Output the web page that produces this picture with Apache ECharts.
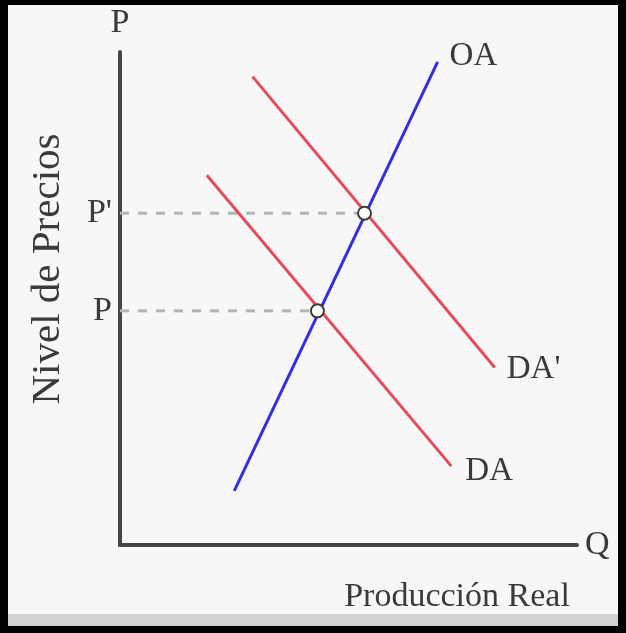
<!DOCTYPE html>
<html>
<head>
<meta charset="utf-8">
<script src="https://cdn.jsdelivr.net/npm/echarts@6/dist/echarts.min.js"></script>
<style>
  html, body { margin: 0; padding: 0; background: #000; }
  #chart { width: 626px; height: 633px; }
</style>
</head>
<body>
<div id="chart"></div>
<script>
// curves in abstract units (0..100 on both axes)
const oaLine = [[25, 11], [69.5, 98]];
const daPrimeLine = [[29, 95], [82, 36]];
const daLine = [[19, 75], [72.5, 16]];
// equilibrium points: P on DA, P' on DA'
const equilibria = [[43.2, 47.5], [53.5, 67.3]];
const priceLabels = ['P', "P'"];

const serif = 'Liberation Serif';
const textColor = '#3a3a3a';

const chart = echarts.init(document.getElementById('chart'));

// dashed guides from the y axis to each equilibrium point
// (symbol kept at size 0 so the label on the first point still renders)
const guideSeries = equilibria.map((pt, i) => ({
    type: 'line',
    silent: true,
    symbol: 'circle',
    symbolSize: 0,
    showSymbol: true,
    lineStyle: { color: '#b4b4b4', width: 3, type: [9, 9] },
    data: [
        {
            value: [0, pt[1]],
            label: {
                show: true,
                position: 'left',
                distance: 8,
                formatter: priceLabels[i],
                fontFamily: serif,
                fontSize: 34,
                color: textColor
            }
        },
        { value: pt, label: { show: false } }
    ],
    z: 1
}));

function curve(name, data, color, offset) {
    return {
        type: 'line',
        name: name,
        data: data,
        symbol: 'none',
        lineStyle: { color: color, width: 3 },
        endLabel: {
            show: true,
            formatter: name,
            fontFamily: serif,
            fontSize: 33,
            color: textColor,
            offset: offset
        },
        z: 2
    };
}

chart.setOption({
    animation: false,
    backgroundColor: '#000',
    graphic: [
        { type: 'rect', z: -10, shape: { x: 8, y: 5, width: 610, height: 609 }, style: { fill: '#f7f7f7' } },
        { type: 'rect', z: -10, shape: { x: 8, y: 614, width: 610, height: 12 }, style: { fill: '#d2d2d2' } },
        {
            type: 'text', x: 48, y: 269, rotation: Math.PI / 2,
            style: { text: 'Nivel de Precios', font: '41px "Liberation Serif"', fill: textColor, textAlign: 'center', textVerticalAlign: 'middle' }
        },
        {
            type: 'text', x: 457, y: 597,
            style: { text: 'Producción Real', font: '34px "Liberation Serif"', fill: textColor, textAlign: 'center', textVerticalAlign: 'middle' }
        }
    ],
    grid: { left: 120, top: 52, right: 49, bottom: 88 },
    xAxis: {
        type: 'value', min: 0, max: 100,
        name: 'Q', nameLocation: 'end', nameGap: 8,
        nameTextStyle: { fontFamily: serif, fontSize: 34, color: textColor, padding: [8, 0, 0, 0] },
        axisLine: { show: true, lineStyle: { color: '#454545', width: 4 } },
        axisTick: { show: false }, axisLabel: { show: false }, splitLine: { show: false }
    },
    yAxis: {
        type: 'value', min: 0, max: 100,
        name: 'P', nameLocation: 'end', nameGap: 12,
        nameTextStyle: { fontFamily: serif, fontSize: 34, color: textColor, align: 'center' },
        axisLine: { show: true, lineStyle: { color: '#454545', width: 4 } },
        axisTick: { show: false }, axisLabel: { show: false }, splitLine: { show: false }
    },
    series: [
        ...guideSeries,
        curve('OA', oaLine, '#3030e0', [4, -6]),
        curve("DA'", daPrimeLine, '#e44c5c', [4, 2]),
        curve('DA', daLine, '#e44c5c', [6, 5]),
        {
            type: 'scatter',
            data: equilibria,
            symbol: 'circle',
            symbolSize: 13,
            itemStyle: { color: '#ffffff', borderColor: '#3c3c30', borderWidth: 2, opacity: 1 },
            z: 5
        }
    ]
});
</script>
</body>
</html>
